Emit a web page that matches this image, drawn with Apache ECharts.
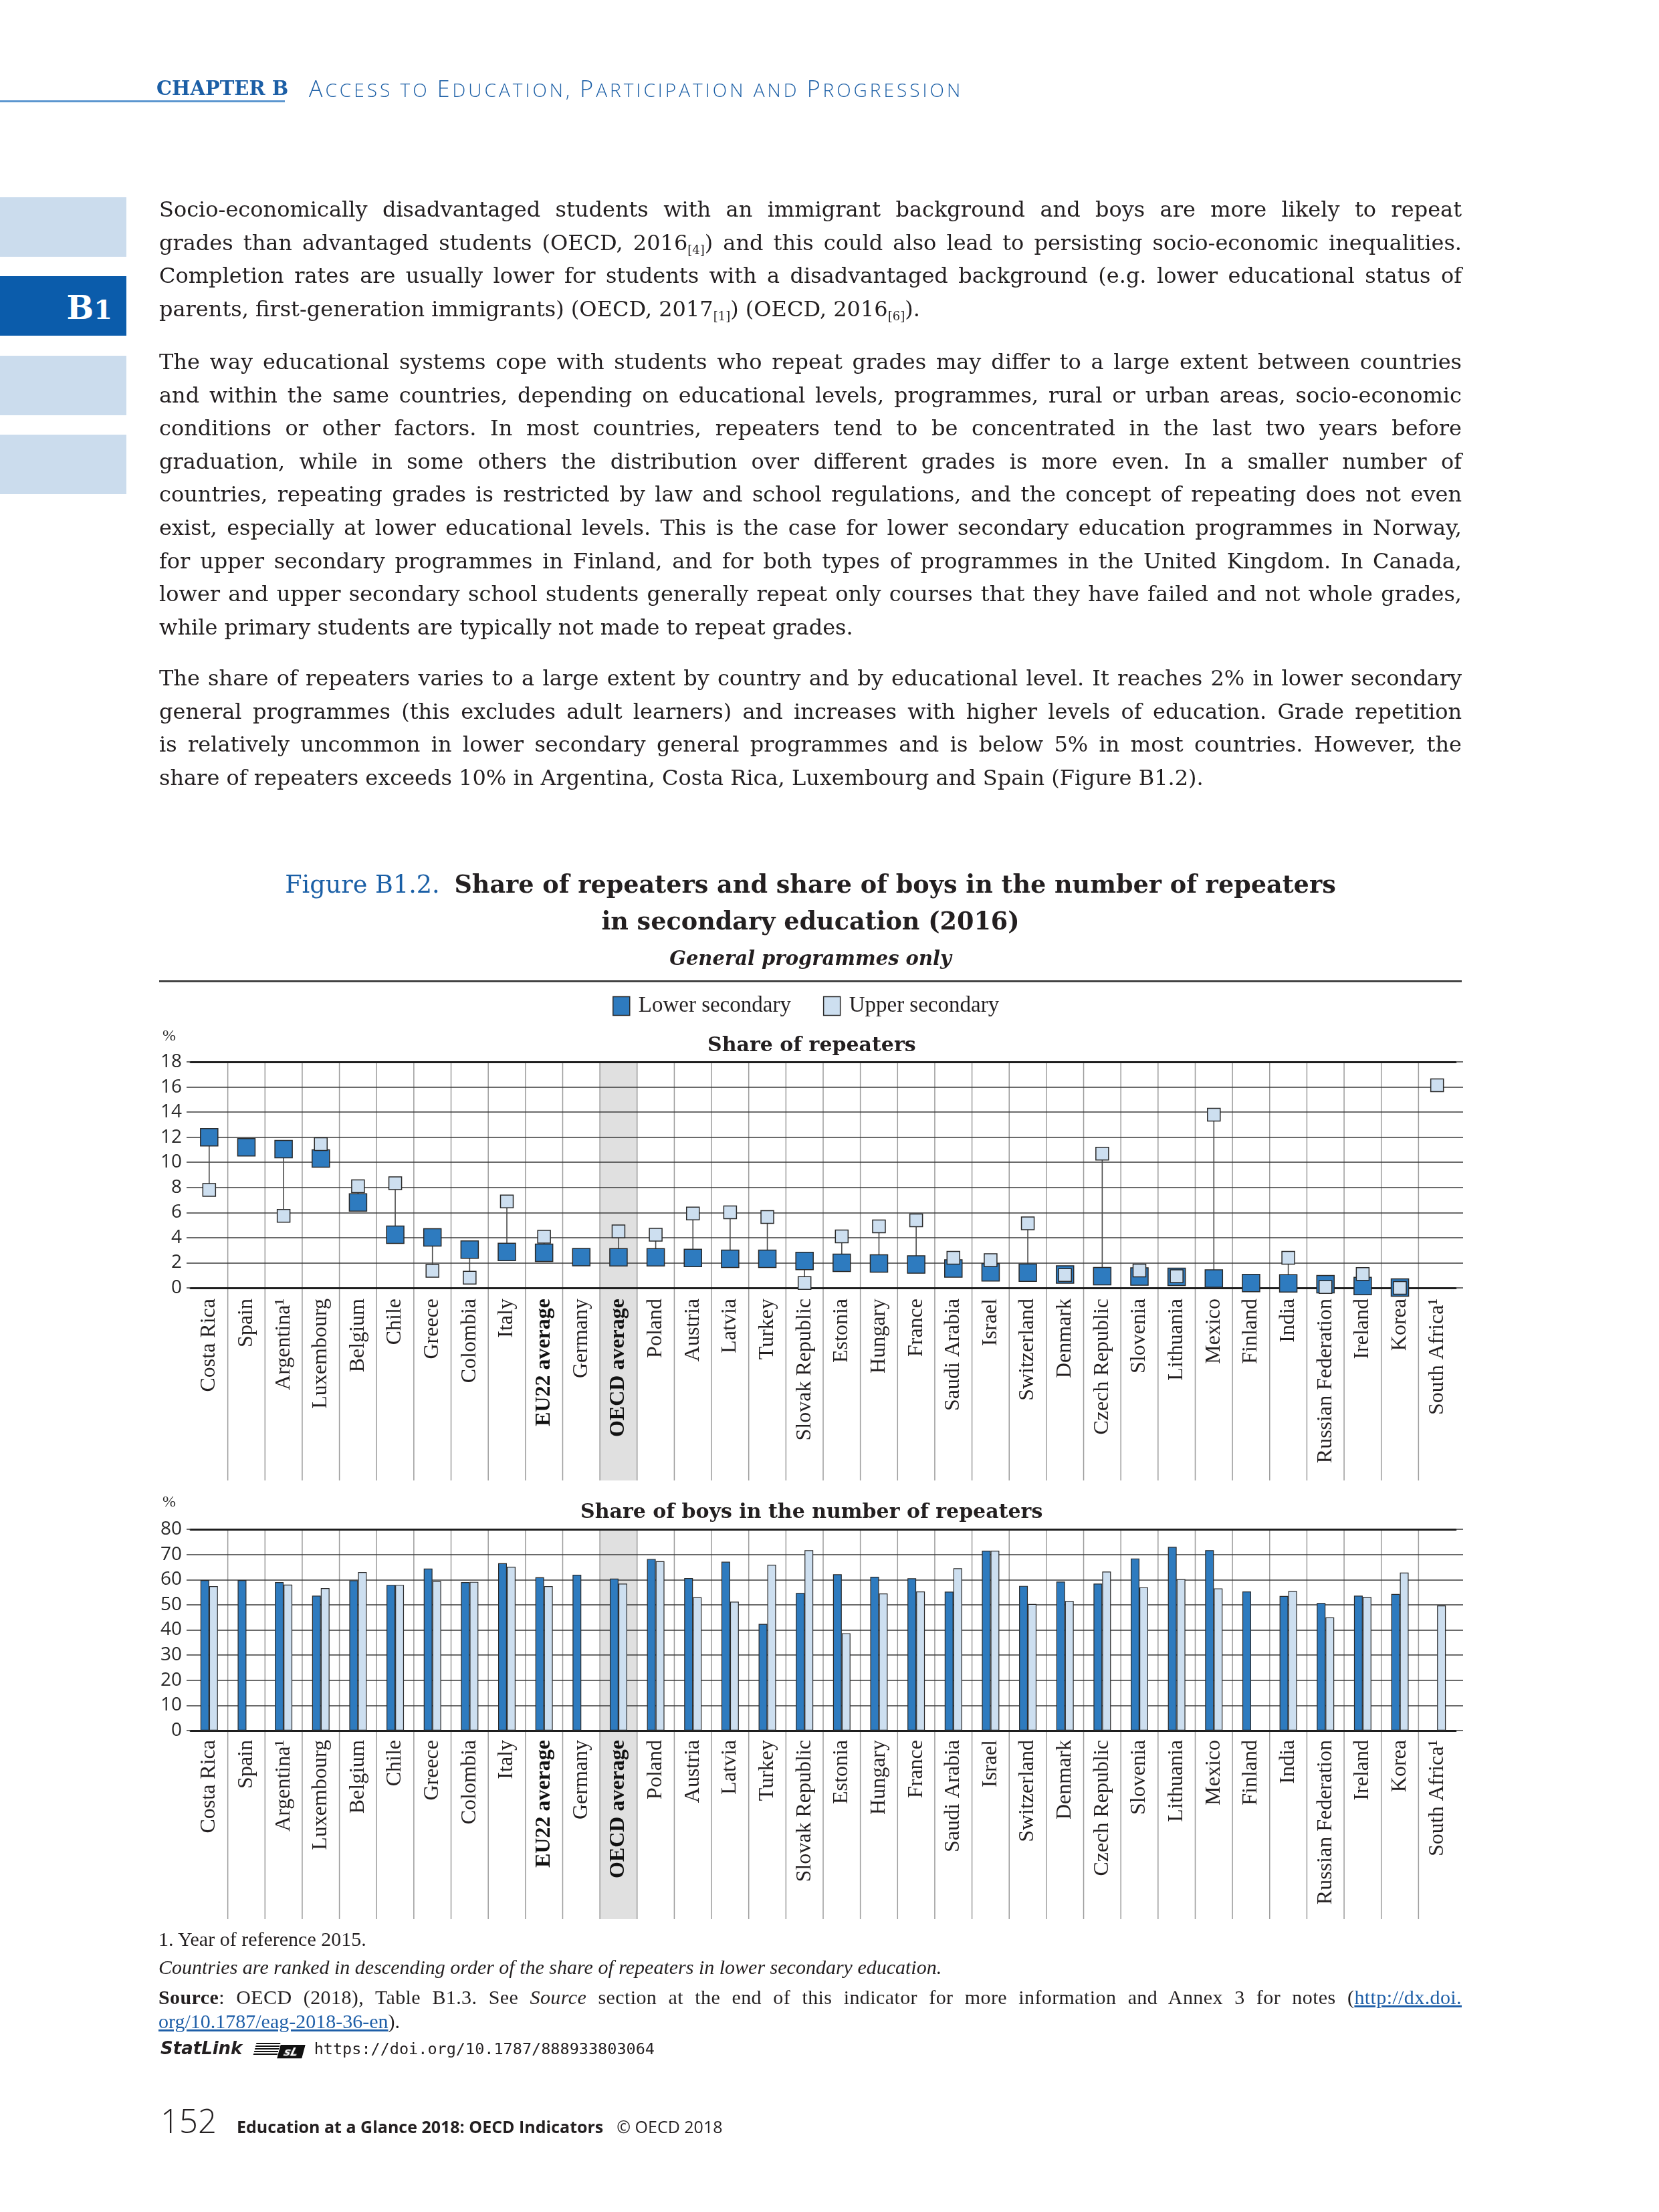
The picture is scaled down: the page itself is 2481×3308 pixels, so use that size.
<!DOCTYPE html>
<html>
<head>
<meta charset="utf-8">
<script src="https://cdn.jsdelivr.net/npm/echarts@6.0.0/dist/echarts.min.js"></script>
<style>
html,body{margin:0;padding:0;background:#fff;}
#page{position:relative;width:2481px;height:3308px;overflow:hidden;background:#fff;}
#chart{position:absolute;left:0;top:0;width:2481px;height:3308px;}
.abs{position:absolute;}
.hdr-chap{left:234px;top:118px;font-family:'DejaVu Serif';font-weight:bold;font-size:29px;line-height:29px;color:#1c5fa6;}
.hdr-title{left:462px;top:117px;font-family:'Open Sans';font-weight:300;font-size:28px;line-height:30px;color:#1c5fa6;text-transform:uppercase;letter-spacing:4px;white-space:nowrap;}
.hdr-title .c{font-size:34px;}
.hdr-line{left:0;top:150px;width:426px;height:3px;background:#5b96cf;}
.tab{left:0;width:189px;height:89px;background:#cbdced;}
.tab.on{background:#0b5cab;color:#fff;font-family:'DejaVu Serif';font-weight:bold;font-size:48px;line-height:89px;text-align:right;box-sizing:border-box;padding-right:21px;padding-top:3px;}
.tab.on .o{font-size:40px;}
.body{left:238px;width:1948px;font-family:'DejaVu Serif';font-size:32px;line-height:49.6px;color:#231f20;letter-spacing:0;}
.body div{text-align:justify;text-align-last:justify;}
.body div.last{text-align-last:left;}
.s{font-size:18px;vertical-align:-6px;line-height:0;letter-spacing:0;}
.figtitle{left:238px;width:1948px;top:1295px;text-align:center;font-family:'DejaVu Serif';font-size:36.6px;line-height:55px;color:#231f20;}
.figtitle .fig{color:#1a5fa6;margin-right:10px;}
.figsub{left:238px;width:1948px;top:1417px;text-align:center;font-family:'DejaVu Serif';font-style:italic;font-weight:bold;font-size:29px;line-height:32px;color:#231f20;}
.figrule{left:238px;top:1466px;width:1948px;height:2.5px;background:#444;}
.foot{left:237px;font-family:'Liberation Serif';font-size:30px;line-height:30px;color:#231f20;white-space:nowrap;}
.foot a{color:#1f5fa8;text-decoration:underline;}
.src{width:1949px;white-space:normal;text-align:justify;text-align-last:justify;letter-spacing:0.4px;}
.statlink{left:240px;top:3050px;font-family:'DejaVu Sans';font-size:26px;line-height:26px;color:#231f20;white-space:nowrap;}
.statlink .sl{font-weight:bold;font-style:italic;}
.statlink .url{font-family:'DejaVu Sans Mono';font-size:23.5px;margin-left:16px;}
.pageno{left:240px;top:3147px;font-family:'Open Sans';font-size:49px;line-height:49px;color:#231f20;white-space:nowrap;}
.pageno .n{font-weight:300;}
.pageno .b{font-size:25px;font-weight:bold;margin-left:30px;}
.pageno .c{font-size:25px;margin-left:20px;}
</style>
</head>
<body>
<div id="page">
<div id="chart"></div>

<div class="abs hdr-chap">CHAPTER B</div>
<div class="abs hdr-title"><span class="c">A</span>ccess to <span class="c">E</span>ducation, <span class="c">P</span>articipation and <span class="c">P</span>rogression</div>
<div class="abs hdr-line"></div>

<div class="abs tab" style="top:295px"></div>
<div class="abs tab on" style="top:413px">B<span class="o">1</span></div>
<div class="abs tab" style="top:532px"></div>
<div class="abs tab" style="top:650px"></div>

<div class="abs body" style="top:289px">
<div>Socio-economically disadvantaged students with an immigrant background and boys are more likely to repeat</div>
<div>grades than advantaged students (OECD, 2016<span class="s">[4]</span>) and this could also lead to persisting socio-economic inequalities.</div>
<div>Completion rates are usually lower for students with a disadvantaged background (e.g. lower educational status of</div>
<div class="last">parents, first-generation immigrants) (OECD, 2017<span class="s">[1]</span>) (OECD, 2016<span class="s">[6]</span>).</div>
</div>

<div class="abs body" style="top:517px">
<div>The way educational systems cope with students who repeat grades may differ to a large extent between countries</div>
<div>and within the same countries, depending on educational levels, programmes, rural or urban areas, socio-economic</div>
<div>conditions or other factors. In most countries, repeaters tend to be concentrated in the last two years before</div>
<div>graduation, while in some others the distribution over different grades is more even. In a smaller number of</div>
<div>countries, repeating grades is restricted by law and school regulations, and the concept of repeating does not even</div>
<div>exist, especially at lower educational levels. This is the case for lower secondary education programmes in Norway,</div>
<div>for upper secondary programmes in Finland, and for both types of programmes in the United Kingdom. In Canada,</div>
<div>lower and upper secondary school students generally repeat only courses that they have failed and not whole grades,</div>
<div class="last">while primary students are typically not made to repeat grades.</div>
</div>

<div class="abs body" style="top:990px">
<div>The share of repeaters varies to a large extent by country and by educational level. It reaches 2% in lower secondary</div>
<div>general programmes (this excludes adult learners) and increases with higher levels of education. Grade repetition</div>
<div>is relatively uncommon in lower secondary general programmes and is below 5% in most countries. However, the</div>
<div class="last">share of repeaters exceeds 10% in Argentina, Costa Rica, Luxembourg and Spain (Figure B1.2).</div>
</div>

<div class="abs figtitle"><span class="fig">Figure B1.2.</span> <b>Share of repeaters and share of boys in the number of repeaters</b><br><b>in secondary education (2016)</b></div>
<div class="abs figsub">General programmes only</div>
<div class="abs figrule"></div>

<div class="abs foot" style="top:2885px">1. Year of reference 2015.</div>
<div class="abs foot" style="top:2927px;font-style:italic">Countries are ranked in descending order of the share of repeaters in lower secondary education.</div>
<div class="abs foot src" style="top:2972px"><b>Source</b>: OECD (2018), Table B1.3. See <i>Source</i> section at the end of this indicator for more information and Annex 3 for notes (<a>http://dx.doi.</a></div>
<div class="abs foot" style="top:3008px"><a>org/10.1787/eag-2018-36-en</a>).</div>
<div class="abs statlink"><span class="sl">StatLink</span> <span style="display:inline-block;width:36px;height:19px;margin-left:10px;background:repeating-linear-gradient(180deg,#111 0 2px,#fff 2px 4px);vertical-align:-2px;transform:skewX(-15deg)"></span><span style="display:inline-block;height:20px;background:#111;color:#fff;font:bold italic 17px 'DejaVu Sans';line-height:20px;padding:0 8px;vertical-align:-2px;transform:skewX(-15deg)">sL</span><span class="url">https://doi.org/10.1787/888933803064</span></div>
<div class="abs pageno"><span class="n">152</span><span class="b">Education at a Glance 2018: OECD Indicators</span><span class="c">© OECD 2018</span></div>
</div>

<script>
// ---------------- DATA ----------------
const categories = ['Costa Rica','Spain','Argentina\u00b9','Luxembourg','Belgium','Chile','Greece','Colombia','Italy','EU22 average','Germany','OECD average','Poland','Austria','Latvia','Turkey','Slovak Republic','Estonia','Hungary','France','Saudi Arabia','Israel','Switzerland','Denmark','Czech Republic','Slovenia','Lithuania','Mexico','Finland','India','Russian Federation','Ireland','Korea','South Africa\u00b9'];
const boldCategories = ['EU22 average','OECD average'];
const highlightCategory = 'OECD average';
const seriesNames = ['Lower secondary','Upper secondary'];

// Share of repeaters (%)
const repLower = [12.0, 11.2, 11.05, 10.3, 6.8, 4.24, 4.02, 3.05, 2.86, 2.79, 2.45, 2.43, 2.43, 2.38, 2.31, 2.31, 2.14, 2.0, 1.95, 1.86, 1.55, 1.24, 1.21, 1.07, 0.93, 0.9, 0.88, 0.74, 0.38, 0.36, 0.29, 0.14, 0.02, null];
const repUpper = [7.8, null, 5.74, 11.45, 8.1, 8.33, 1.36, 0.81, 6.88, 4.07, null, 4.5, 4.24, 5.93, 6.02, 5.64, 0.38, 4.1, 4.9, 5.38, 2.4, 2.21, 5.14, 1.02, 10.69, 1.38, 0.93, 13.79, null, 2.4, 0.07, 1.1, 0.0, 16.14];

// Share of boys in the number of repeaters (%)
const boysLower = [59.8, 59.8, 59.0, 53.6, 59.7, 57.9, 64.4, 59.0, 66.5, 60.9, 61.9, 60.4, 68.2, 60.6, 67.1, 42.4, 54.7, 62.1, 61.1, 60.5, 55.2, 71.5, 57.5, 59.2, 58.4, 68.4, 73.0, 71.7, 55.3, 53.5, 50.7, 53.6, 54.3, null];
const boysUpper = [57.4, null, 58.0, 56.6, 63.0, 57.9, 59.4, 59.1, 65.1, 57.4, null, 58.4, 67.3, 53.0, 51.2, 65.9, 71.7, 38.7, 54.5, 55.3, 64.5, 71.5, 50.3, 51.5, 63.2, 56.9, 60.2, 56.5, null, 55.5, 45.0, 53.1, 62.8, 49.7];

const repTicks = [0, 2, 4, 6, 8, 10, 12, 14, 16, 18];
const boysTicks = [0, 10, 20, 30, 40, 50, 60, 70, 80];

const panelTitles = ['Share of repeaters', 'Share of boys in the number of repeaters'];

// ---------------- STYLE ----------------
const DARK = '#2e7bbf', LIGHT = '#cddff0', EDGE = '#2a2a2a';
const GRID_LINE = '#3a3a3a', SEP = '#9c9c9c', AXIS = '#1e1e1e';

const toData = arr => arr.map(v => (v == null ? '-' : v));

function frameSeries(xIdx, yIdx, depth) {
  return {
    type: 'custom', xAxisIndex: xIdx, yAxisIndex: yIdx, z: -1, silent: true, clip: false,
    data: categories.map((c, i) => [i, 0]), encode: { x: 0, y: 1 },
    renderItem(params, api) {
      const i = api.value(0);
      const pt = api.coord([i, 0]);
      const bw = api.size([1, 0])[0];
      const cs = params.coordSys;
      const x0 = pt[0] - bw / 2;
      const children = [];
      if (categories[i] === highlightCategory) {
        children.push({ type: 'rect', shape: { x: x0, y: cs.y, width: bw, height: cs.height + depth }, style: { fill: '#e0e0e0' } });
      }
      if (i > 0) {
        children.push({ type: 'line', shape: { x1: x0, y1: cs.y, x2: x0, y2: cs.y + cs.height + depth }, style: { stroke: SEP, lineWidth: 1.5 } });
      }
      return { type: 'group', children };
    }
  };
}

function catAxis(gridIndex, margin) {
  return {
    type: 'category', gridIndex, data: categories, boundaryGap: true, position: 'bottom',
    axisLine: { show: true, onZero: false, lineStyle: { color: AXIS, width: 3 } },
    axisTick: { show: false }, splitLine: { show: false },
    axisLabel: {
      interval: 0, rotate: 90, margin, fontFamily: 'Liberation Serif', fontSize: 32, color: '#231f20',
      formatter: v => (boldCategories.includes(v) ? '{b|' + v + '}' : v),
      rich: { b: { fontFamily: 'Liberation Serif', fontSize: 32, fontWeight: 'bold', color: '#111' } }
    }
  };
}
function topLineAxis(gridIndex) {
  return {
    type: 'category', gridIndex, data: categories, position: 'top',
    axisLine: { show: true, onZero: false, lineStyle: { color: AXIS, width: 3 } },
    axisTick: { show: false }, axisLabel: { show: false }, splitLine: { show: false }
  };
}
function leftAxis(gridIndex, ticks, nameGap) {
  return {
    type: 'value', gridIndex, position: 'left',
    min: ticks[0], max: ticks[ticks.length - 1], interval: ticks[1] - ticks[0],
    axisLine: { show: false },
    axisTick: { show: true, length: 6, lineStyle: { color: GRID_LINE, width: 1.5 } },
    axisLabel: { fontFamily: 'Open Sans', fontSize: 28, color: '#2a2a2a', margin: 13 },
    splitLine: { show: true, lineStyle: { color: GRID_LINE, width: 1.5 } },
    name: '%', nameLocation: 'end', nameGap,
    nameTextStyle: { fontFamily: 'Liberation Serif', fontSize: 24, color: '#333', align: 'right', padding: [0, 22, 0, 0] }
  };
}
function rightAxis(gridIndex, ticks) {
  return {
    type: 'value', gridIndex, position: 'right',
    min: ticks[0], max: ticks[ticks.length - 1], interval: ticks[1] - ticks[0],
    axisLine: { show: false }, axisLabel: { show: false }, splitLine: { show: false },
    axisTick: { show: true, length: 11, inside: false, lineStyle: { color: GRID_LINE, width: 1.5 } }
  };
}

const chart = echarts.init(document.getElementById('chart'), null, { renderer: 'canvas', width: 2481, height: 3308 });

const option = {
  backgroundColor: '#ffffff',
  animation: false,
  title: [
    { text: panelTitles[0], left: 1058, top: 1549, padding: 0,
      textStyle: { fontFamily: 'DejaVu Serif', fontWeight: 'bold', fontSize: 30, color: '#231f20' } },
    { text: panelTitles[1], left: 868, top: 2247, padding: 0,
      textStyle: { fontFamily: 'DejaVu Serif', fontWeight: 'bold', fontSize: 30, color: '#231f20' } }
  ],
  legend: {
    data: seriesNames, left: 916, top: 1488, padding: 0, itemWidth: 25, itemHeight: 28, itemGap: 48,
    icon: 'rect', selectedMode: false,
    itemStyle: { borderColor: EDGE, borderWidth: 1.5 },
    textStyle: { fontFamily: 'Liberation Serif', fontSize: 33, color: '#231f20', padding: [0, 0, 0, 8] }
  },
  grid: [
    { left: 285, top: 1588, width: 1892, height: 338, outerBoundsMode: 'none', containLabel: false },
    { left: 285, top: 2287, width: 1892, height: 301, outerBoundsMode: 'none', containLabel: false }
  ],
  xAxis: [catAxis(0, 16), catAxis(1, 14), topLineAxis(0), topLineAxis(1)],
  yAxis: [leftAxis(0, repTicks, 26), rightAxis(0, repTicks), leftAxis(1, boysTicks, 28), rightAxis(1, boysTicks)],
  series: [
    frameSeries(0, 0, 288),
    frameSeries(1, 2, 282),
    {
      type: 'custom', xAxisIndex: 0, yAxisIndex: 0, z: 2, silent: true, clip: false,
      data: categories.map((c, i) => [i, repLower[i], repUpper[i]]).filter(d => d[1] != null && d[2] != null),
      encode: { x: 0, y: [1, 2] },
      renderItem(params, api) {
        const a = api.coord([api.value(0), api.value(1)]);
        const b = api.coord([api.value(0), api.value(2)]);
        return { type: 'line', shape: { x1: a[0], y1: a[1], x2: b[0], y2: b[1] }, style: { stroke: '#4a4a4a', lineWidth: 1.6 } };
      }
    },
    {
      name: seriesNames[0], type: 'scatter', xAxisIndex: 0, yAxisIndex: 0, symbol: 'rect', symbolSize: 26, z: 3, clip: false,
      itemStyle: { color: DARK, borderColor: EDGE, borderWidth: 1.5, opacity: 1 }, data: toData(repLower)
    },
    {
      name: seriesNames[1], type: 'scatter', xAxisIndex: 0, yAxisIndex: 0, symbol: 'rect', symbolSize: 19, z: 4, clip: false,
      itemStyle: { color: LIGHT, borderColor: EDGE, borderWidth: 1.5, opacity: 1 }, data: toData(repUpper)
    },
    {
      name: seriesNames[0], type: 'bar', xAxisIndex: 1, yAxisIndex: 2, barWidth: 13, barGap: '0%', z: 3,
      itemStyle: { color: DARK, borderColor: EDGE, borderWidth: 1.2 }, data: toData(boysLower)
    },
    {
      name: seriesNames[1], type: 'bar', xAxisIndex: 1, yAxisIndex: 2, barWidth: 13, barGap: '0%', z: 3,
      itemStyle: { color: LIGHT, borderColor: EDGE, borderWidth: 1.2 }, data: toData(boysUpper)
    }
  ]
};
chart.setOption(option);
</script>
</body>
</html>
